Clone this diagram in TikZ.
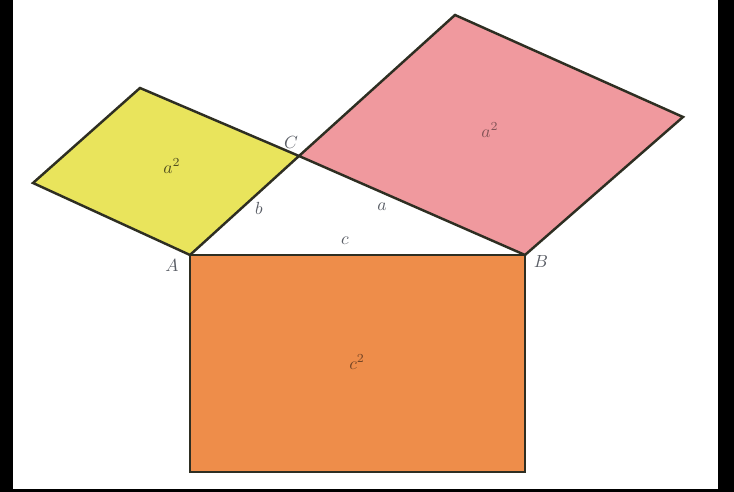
\documentclass[tikz,border=0pt]{standalone}
\usepackage{tikz}
\usetikzlibrary{positioning,calc}
\definecolor{SqYellow}{HTML}{E9E45C}
\definecolor{SqPink}{HTML}{F0999E}
\definecolor{SqOrange}{HTML}{EE8D4A}
\definecolor{SqEdge}{HTML}{2E2E22}
\definecolor{LblGrey}{HTML}{5A5E66}

\begin{document}
\begin{tikzpicture}[
    x=0.02cm, y=0.02cm,
    square/.style={
      draw=SqEdge,
      line width=1.4pt,
      line join=miter
    },
    vertex/.style={
      font=\normalsize,
      color=LblGrey
    },
    side/.style={
      font=\normalsize,
      color=LblGrey
    },
    area/.style={
      font=\normalsize
    }
  ]

  % Frame
  \fill[black] (0,0) rectangle (734,492);
  \fill[white] (13,3) rectangle (718,492);
  \useasboundingbox (0,0) rectangle (734,492);

  % Corners of the triangle
  \coordinate (A) at (190,237);
  \coordinate (B) at (525,237);
  \coordinate (C) at (299,336);

  % Outer corners of the squares
  \coordinate (y1) at (33,309);
  \coordinate (y2) at (140,404);
  \coordinate (p1) at (455,477);
  \coordinate (p2) at (683,375);
  \coordinate (o1) at (190,20);
  \coordinate (o2) at (525,20);

  % Squares
  \draw[square,fill=SqYellow] (A) -- (y1) -- (y2) -- (C) -- cycle;
  \draw[square,fill=SqPink] (C) -- (p1) -- (p2) -- (B) -- cycle;
  \draw[square,fill=SqOrange] (A) -- (B) -- (o2) -- (o1) -- cycle;

  % Areas
  \node[area,color=SqYellow!35!black] (ya) at (172,326) {$a^2$};
  \node[area,color=SqPink!55!black] (pa) at (490,362) {$a^2$};
  \node[area,color=SqOrange!50!black] (oa) at (357,130) {$c^2$};

  % Sides
  \node[side] (sb) at (259,284) {$b$};
  \node[side] (sa) at (382,285) {$a$};
  \node[side] (sc) at (345,251) {$c$};

  % Vertices
  \node[vertex] (lA) at (172,226) {$A$};
  \node[vertex] (lB) at (541,230) {$B$};
  \node[vertex] (lC) at (291,349) {$C$};

\end{tikzpicture}
\end{document}
